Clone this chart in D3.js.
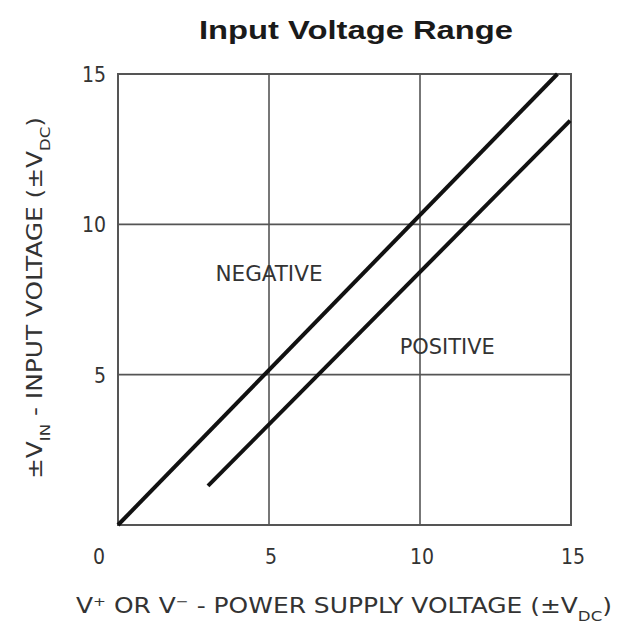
<!DOCTYPE html>
<html>
<head>
<meta charset="utf-8">
<script src="https://d3js.org/d3.v7.min.js"></script>
<style>
  body { margin: 0; background: #fff; }
  text { font-family: "DejaVu Sans Condensed", "DejaVu Sans", sans-serif; fill: #333; }
</style>
</head>
<body>
<div class="chart"></div>
<script>
var margin = {top: 74, right: 47, bottom: 103, left: 118};

let width = 618 - margin.left - margin.right;
let height = 628 - margin.top - margin.bottom;

// data
var xTicks = [0, 5, 10, 15];
var yTicks = [5, 10, 15];
var negativeLine = [[0, 0], [14.55, 15]];
var positiveLine = [[2.98, 1.3], [14.97, 13.45]];
var curveLabels = [
  {name: "NEGATIVE", x: 5.0, y: 8.1, w: 107},
  {name: "POSITIVE", x: 10.9, y: 5.7, w: 95}
];

var svg = d3.select(".chart")
    .append("svg")
    .attr("width", width + margin.left + margin.right)
    .attr("height", height + margin.top + margin.bottom);

var g = svg.append("g")
    .attr("transform", "translate(" + margin.left + "," + margin.top + ")");

var x = d3.scaleLinear().domain([0, 15]).range([0, width]);
var y = d3.scaleLinear().domain([0, 15]).range([height, 0]);

// title
svg.append("text")
    .attr("x", 356)
    .attr("y", 39)
    .attr("text-anchor", "middle")
    .attr("textLength", 314)
    .attr("lengthAdjust", "spacingAndGlyphs")
    .style("font-family", "'Liberation Sans', Arial, sans-serif")
    .style("font-weight", "bold")
    .style("font-size", "25px")
    .style("fill", "#1a1a1a")
    .text("Input Voltage Range");

// grid
g.selectAll(".vgrid")
    .data(xTicks.filter(function(d) { return d > 0 && d < 15; }))
  .enter().append("line")
    .attr("x1", function(d) { return x(d); })
    .attr("x2", function(d) { return x(d); })
    .attr("y1", 0)
    .attr("y2", height)
    .attr("stroke", "#555")
    .attr("stroke-width", 1.6);

g.selectAll(".hgrid")
    .data(yTicks.filter(function(d) { return d < 15; }))
  .enter().append("line")
    .attr("x1", 0)
    .attr("x2", width)
    .attr("y1", function(d) { return y(d); })
    .attr("y2", function(d) { return y(d); })
    .attr("stroke", "#555")
    .attr("stroke-width", 1.6);

// frame
g.append("rect")
    .attr("width", width)
    .attr("height", height)
    .attr("fill", "none")
    .attr("stroke", "#555")
    .attr("stroke-width", 2);

// curves
var line = d3.line()
    .x(function(d) { return x(d[0]); })
    .y(function(d) { return y(d[1]); });

g.selectAll(".curve")
    .data([negativeLine, positiveLine])
  .enter().append("path")
    .attr("d", line)
    .attr("fill", "none")
    .attr("stroke", "#111")
    .attr("stroke-width", 4);

g.selectAll(".clabel")
    .data(curveLabels)
  .enter().append("text")
    .attr("x", function(d) { return x(d.x); })
    .attr("y", function(d) { return y(d.y); })
    .attr("text-anchor", "middle")
    .attr("textLength", function(d) { return d.w; })
    .attr("lengthAdjust", "spacingAndGlyphs")
    .style("font-size", "21px")
    .text(function(d) { return d.name; });

// tick labels
g.selectAll(".xtick")
    .data(xTicks)
  .enter().append("text")
    .attr("x", function(d) { return d === 0 ? x(d) - 19 : x(d) + 2; })
    .attr("y", height + 39)
    .attr("text-anchor", "middle")
    .style("font-size", "21px")
    .text(function(d) { return d; });

g.selectAll(".ytick")
    .data(yTicks)
  .enter().append("text")
    .attr("x", -12)
    .attr("y", function(d) { return y(d) + 8; })
    .attr("text-anchor", "end")
    .style("font-size", "21px")
    .text(function(d) { return d; });

// axis titles
var xt = svg.append("text")
    .attr("x", 344)
    .attr("y", 613)
    .attr("text-anchor", "middle")
    .attr("textLength", 536)
    .attr("lengthAdjust", "spacingAndGlyphs")
    .style("font-size", "21px");
xt.append("tspan").text("V");
xt.append("tspan").attr("baseline-shift", "super").style("font-size", "13px").text("+");
xt.append("tspan").text(" OR V");
xt.append("tspan").attr("baseline-shift", "super").style("font-size", "13px").text("\u2212");
xt.append("tspan").text(" - POWER SUPPLY VOLTAGE (\u00b1V");
xt.append("tspan").attr("baseline-shift", "sub").style("font-size", "14px").text("DC");
xt.append("tspan").text(")");

var yt = svg.append("text")
    .attr("transform", "translate(42,298) rotate(-90)")
    .attr("text-anchor", "middle")
    .attr("textLength", 362)
    .attr("lengthAdjust", "spacingAndGlyphs")
    .style("font-size", "21px");
yt.append("tspan").text("\u00b1V");
yt.append("tspan").attr("baseline-shift", "sub").style("font-size", "14px").text("IN");
yt.append("tspan").text(" - INPUT VOLTAGE (\u00b1V");
yt.append("tspan").attr("baseline-shift", "sub").style("font-size", "14px").text("DC");
yt.append("tspan").text(")");
</script>
</body>
</html>
